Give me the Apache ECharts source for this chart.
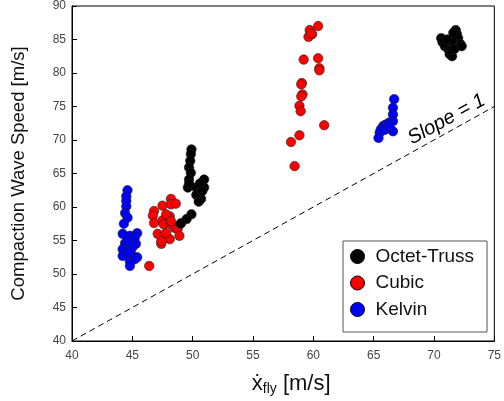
<!DOCTYPE html>
<html><head><meta charset="utf-8">
<script src="https://cdn.jsdelivr.net/npm/echarts@6/dist/echarts.min.js"></script>
<style>html,body{margin:0;padding:0;background:#fff}#c{width:504px;height:401px}</style>
</head><body><div id="c"></div>
<script>
const seriesNames = ['Octet-Truss', 'Cubic', 'Kelvin'];
const octetTruss = [
  [49.9,68.6],[49.85,67.9],[49.8,66.9],[49.7,65.9],[49.85,65.1],[49.7,64.1],[49.6,62.9],[50.3,62.9],
  [50.95,64.1],[50.95,62.9],[50.55,62.1],[50.7,61.2],[49.9,58.9],[49.5,58.2],[49.0,57.5],[50.6,63.5],
  [50.3,61.8],[50.8,62.4],[49.7,63.5],[50.5,60.8],
  [70.6,85.2],[70.7,84.6],[70.9,84.0],[71.2,83.5],[71.3,82.8],[71.5,82.5],[71.8,86.4],[71.9,85.8],
  [72.0,85.2],[72.2,84.3],[71.5,84.8],[71.4,83.4],[71.7,83.6],[71.1,85.0],[72.3,84.0],[71.6,86.0]
];
const cubic = [
  [48.2,61.2],[48.2,60.4],[48.6,60.5],[47.5,60.2],[46.8,59.4],[46.7,58.7],[46.8,57.6],[47.5,58.0],
  [47.6,57.4],[48.1,58.6],[48.2,57.4],[48.5,56.9],[49.05,57.6],[48.75,56.7],[47.1,56.0],[47.65,55.8],
  [48.1,55.2],[47.4,54.5],[48.9,55.7],[46.4,51.2],[47.4,54.9],[47.8,58.9],[47.8,56.1],[48.2,57.9],
  [60.4,87.0],[59.7,86.4],[59.9,85.8],[59.6,85.4],[59.2,82.0],[60.4,82.2],[60.5,80.7],[59.05,78.5],
  [59.1,76.8],[59.0,76.5],[58.85,75.1],[58.95,74.3],[60.9,72.2],[58.85,70.7],[58.15,69.7],[58.45,66.1],
  [59.0,78.3],[60.5,80.4],[59.8,85.9]
];
const kelvin = [
  [44.6,62.5],[44.5,61.6],[44.5,60.9],[44.5,60.1],[44.4,59.1],[44.6,58.4],[44.3,57.5],[44.2,56.0],
  [44.8,55.7],[45.4,56.1],[45.2,55.4],[44.4,54.6],[45.3,54.5],[44.2,53.7],[44.9,53.7],[44.2,52.7],
  [45.0,52.7],[45.4,52.5],[44.8,51.9],[45.2,52.2],[44.8,51.2],[44.6,55.0],[45.0,54.0],[44.7,53.2],
  [66.7,76.1],[66.6,74.8],[66.6,73.8],[66.6,72.8],[66.3,72.6],[66.0,72.3],[65.8,72.1],[65.6,71.6],
  [65.5,71.1],[65.4,70.3],[66.2,71.8],[66.6,71.3],[65.9,71.5],[66.3,72.0]
];
const slopeLine = [[40,40],[75,75]];
const xTicks = [40,45,50,55,60,65,70,75];
const yTicks = [40,45,50,55,60,65,70,75,80,85,90];
const colors = ['#000000', '#ff0000', '#0000ff'];

const font = 'Liberation Sans, Arial, sans-serif';
const chart = echarts.init(document.getElementById('c'), null, {renderer:'canvas'});
const axisCommon = {
  axisLine:{onZero:false, lineStyle:{color:'#000', width:1}},
  axisTick:{inside:true, length:5, lineStyle:{color:'#000'}},
  splitLine:{show:false},
  axisLabel:{color:'#444', fontSize:12, fontFamily:font},
  nameLocation:'middle'
};
const mk = (name, data, color) => ({
  name, type:'scatter', data, symbolSize:9.5,
  itemStyle:{color, borderColor:'#222', borderWidth:0.6, opacity:1},
  z:3
});
chart.setOption({
  animation:false,
  textStyle:{fontFamily:font},
  grid:{left:72, right:6, top:5, bottom:60, show:true, borderColor:'#000', borderWidth:1},
  xAxis:Object.assign({}, axisCommon, {
    type:'value', min:xTicks[0], max:xTicks[xTicks.length-1], interval:5,
    axisLabel:Object.assign({}, axisCommon.axisLabel, {margin:9}),
    name:'{a|ẋ}{s|fly}{a| [m/s]}', nameGap:30,
    nameTextStyle:{padding:[0,0,0,16], rich:{a:{fontSize:22, color:'#111', fontFamily:font}, s:{fontSize:14, color:'#111', fontFamily:font, verticalAlign:'bottom', padding:[11,0,0,0]}}}
  }),
  yAxis:Object.assign({}, axisCommon, {
    type:'value', min:yTicks[0], max:yTicks[yTicks.length-1], interval:5,
    axisLabel:Object.assign({}, axisCommon.axisLabel, {margin:6}),
    name:'Compaction Wave Speed [m/s]', nameGap:44,
    nameTextStyle:{fontSize:18.5, color:'#111', fontFamily:font}
  }),
  legend:{
    orient:'vertical', left:343, top:241,
    data:seriesNames, icon:'circle', itemWidth:14, itemHeight:14, itemGap:7.5,
    padding:[6,13,13,7],
    backgroundColor:'#fff', borderColor:'#555', borderWidth:1,
    textStyle:{fontSize:19, color:'#111', fontFamily:font, padding:[0,0,0,6]},
    itemStyle:{borderColor:'#000', borderWidth:1}
  },
  series:[
    {type:'line', data:slopeLine, symbol:'none', silent:true,
     lineStyle:{color:'#000', width:1, type:[6,4]}, z:2},
    mk(seriesNames[2], kelvin, colors[2]),
    mk(seriesNames[1], cubic, colors[1]),
    mk(seriesNames[0], octetTruss, colors[0])
  ]
});
const p = chart.convertToPixel({gridIndex:0}, [71.5, 71.5]);
chart.setOption({graphic:[{
  type:'text', x:p[0]-5.5, y:p[1]-10.5, rotation:Math.atan2(6.7,12.14),
  style:{text:'Slope = 1', fontSize:20, fontStyle:'italic', fill:'#000', fontFamily:font, align:'center', verticalAlign:'middle'}
}]});
</script></body></html>
